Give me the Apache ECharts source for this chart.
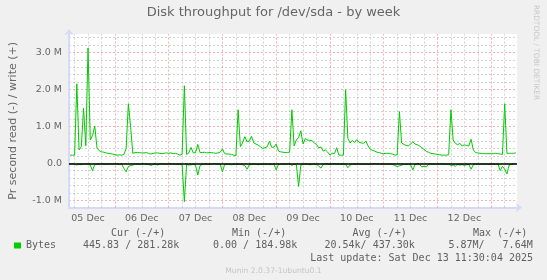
<!DOCTYPE html>
<html><head><meta charset="utf-8">
<script src="https://cdn.jsdelivr.net/npm/echarts@6/dist/echarts.min.js"></script>
<style>html,body{margin:0;padding:0;background:#f0f0f0}#c{width:547px;height:280px}</style>
</head><body><div id="c"></div>
<script>
// hourly samples, hours counted from 05 Dec 00:00
const startHour = 4;
// write (+) throughput, M bytes per second
const writeM = [
  0.22,0.22,0.22,2.15,0.36,0.45,1.49,0.47,3.12,0.63,
  0.75,1.01,0.41,0.34,0.31,0.30,0.28,0.27,0.26,0.25,
  0.23,0.22,0.23,0.22,0.24,0.39,1.61,0.98,0.27,0.29,
  0.29,0.29,0.28,0.28,0.29,0.27,0.25,0.27,0.28,0.28,
  0.27,0.26,0.27,0.28,0.27,0.28,0.26,0.27,0.25,0.22,
  0.25,2.10,0.24,0.28,0.43,0.28,0.29,0.51,0.29,0.29,
  0.30,0.28,0.29,0.29,0.28,0.27,0.28,0.30,0.39,0.26,
  0.25,0.25,0.24,0.22,0.20,1.45,0.45,0.55,0.72,0.58,
  0.60,0.73,0.55,0.52,0.49,0.45,0.40,0.42,0.45,0.60,
  0.43,0.44,0.52,0.33,0.31,0.30,0.29,0.29,0.30,1.45,
  0.47,0.63,0.70,0.88,0.52,0.67,0.63,0.62,0.61,0.55,
  0.51,0.42,0.44,0.33,0.36,0.30,0.22,0.27,0.26,0.42,
  0.22,0.22,0.22,1.99,0.67,0.55,0.62,0.56,0.64,0.57,
  0.55,0.54,0.60,0.47,0.38,0.35,0.33,0.30,0.29,0.27,
  0.26,0.27,0.27,0.26,0.25,0.22,0.23,1.40,0.55,0.51,
  0.48,0.47,0.52,0.58,0.52,0.50,0.47,0.42,0.38,0.32,
  0.30,0.27,0.26,0.25,0.24,0.23,0.22,0.22,0.22,0.23,
  1.45,0.63,0.54,0.50,0.54,0.47,0.50,0.48,0.47,0.65,
  0.36,0.29,0.28,0.27,0.26,0.26,0.26,0.26,0.26,0.26,
  0.27,0.26,0.25,0.24,1.61,0.27,0.27,0.27,0.27,0.28
];
// read (-) throughput magnitudes, drawn below zero
const readM = [
  0.01,0.01,0.02,0.05,0.02,0.04,0.02,0.01,0.02,0.05,
  0.20,0.03,0.02,0.02,0.01,0.02,0.03,0.01,0.02,0.02,
  0.01,0.02,0.03,0.02,0.14,0.23,0.09,0.06,0.05,0.02,
  0.02,0.03,0.02,0.01,0.02,0.03,0.06,0.03,0.02,0.05,
  0.02,0.01,0.02,0.03,0.02,0.01,0.02,0.02,0.03,0.02,
  0.04,1.04,0.03,0.05,0.04,0.03,0.05,0.32,0.06,0.03,
  0.02,0.02,0.03,0.02,0.01,0.02,0.03,0.02,0.23,0.03,
  0.02,0.03,0.04,0.02,0.03,0.02,0.03,0.04,0.06,0.16,
  0.04,0.03,0.02,0.03,0.04,0.02,0.03,0.03,0.02,0.04,
  0.03,0.02,0.18,0.03,0.02,0.02,0.03,0.01,0.02,0.06,
  0.02,0.04,0.63,0.05,0.03,0.02,0.03,0.04,0.03,0.02,
  0.03,0.08,0.13,0.03,0.02,0.02,0.03,0.02,0.01,0.02,
  0.02,0.03,0.02,0.03,0.12,0.05,0.02,0.03,0.02,0.02,
  0.03,0.02,0.02,0.03,0.02,0.02,0.01,0.02,0.02,0.02,
  0.03,0.02,0.02,0.02,0.03,0.06,0.09,0.07,0.05,0.03,
  0.03,0.03,0.04,0.18,0.03,0.02,0.03,0.10,0.08,0.10,
  0.03,0.02,0.02,0.02,0.03,0.02,0.02,0.02,0.03,0.02,
  0.06,0.05,0.08,0.03,0.05,0.03,0.06,0.04,0.03,0.16,
  0.04,0.02,0.02,0.03,0.02,0.02,0.02,0.03,0.02,0.02,
  0.03,0.02,0.20,0.08,0.16,0.29,0.05,0.03,0.02,0.00
];
const dayLabels = ['05 Dec','06 Dec','07 Dec','08 Dec','09 Dec','10 Dec','11 Dec','12 Dec'];
const legendHeaders = ['Cur (-/+)','Min (-/+)','Avg (-/+)','Max (-/+)'];
const legendValues = ['445.83 / 281.28k','0.00 / 184.98k','20.54k/ 437.30k','5.87M/   7.64M'];
const lastUpdate = 'Last update: Sat Dec 13 11:30:04 2025';
const footer = 'Munin 2.0.37-1ubuntu0.1';
const sideText = 'RRDTOOL / TOBI OETIKER';

const GREEN = '#00cc00';
const MINOR = 'rgba(150,150,150,0.42)';
const MAJOR = 'rgba(232,100,100,0.5)';
const FONT = '#666666';
const AXIS = '#d4daf8';

const writeData = writeM.map((v, i) => [startHour + i, v]);
const readData = readM.map((v, i) => [startHour + i, -v]);
const noonHours = dayLabels.map((_, i) => 12 + 24 * i);
const gridHours = [];
for (let h = 6; h <= 198; h += 6) gridHours.push(h);

const chart = echarts.init(document.getElementById('c'), null, {renderer: 'canvas'});
const headerX = [111, 232, 352.5, 473];
const valueX = [83, 213, 324.5, 448.4];
const graphics = [];
legendHeaders.forEach((t, i) => graphics.push({type: 'text', left: headerX[i], top: 228.5, silent: true,
  style: {text: t, fill: '#606060', font: '10px "DejaVu Sans Mono"'}}));
legendValues.forEach((t, i) => graphics.push({type: 'text', left: valueX[i], top: 240.8, silent: true,
  style: {text: t, fill: '#606060', font: '10px "DejaVu Sans Mono"'}}));
graphics.push({type: 'text', right: 14, top: 253.3, silent: true,
  style: {text: lastUpdate, fill: '#606060', font: '10px "DejaVu Sans Mono"'}});
graphics.push({type: 'text', left: 'center', top: 267.5, silent: true,
  style: {text: footer, fill: '#c4c4c4', font: '7.6px "DejaVu Sans"'}});
graphics.push({type: 'text', x: 536, y: 52.5, rotation: -Math.PI / 2, silent: true,
  style: {text: sideText, fill: '#c8c8c8', font: '7.4px "DejaVu Sans"', align: 'center', verticalAlign: 'middle'}});

chart.setOption({
  animation: false,
  backgroundColor: '#f0f0f0',
  title: {text: 'Disk throughput for /dev/sda - by week', left: 'center', top: 6, padding: 0,
    textStyle: {fontSize: 13, fontWeight: 'normal', color: FONT, fontFamily: 'DejaVu Sans'}},
  legend: {data: ['Bytes'], left: 14, top: 240.5, padding: 0, icon: 'rect', itemWidth: 7, itemHeight: 6,
    selectedMode: false, textStyle: {fontFamily: 'DejaVu Sans Mono', fontSize: 10, color: '#606060'}},
  grid: {left: 66, right: 30, top: 34, bottom: 72.4, show: true, backgroundColor: '#ffffff', borderWidth: 0},
  xAxis: {
    type: 'value', min: 3.5, max: 203.5,
    axisLine: {show: true, onZero: false, lineStyle: {color: AXIS, width: 2}, symbol: ['none', 'arrow'], symbolSize: [7, 6], symbolOffset: [0, 5]},
    axisTick: {show: false},
    splitLine: {show: false},
    axisLabel: {customValues: noonHours, formatter: v => dayLabels[Math.round((v - 12) / 24)] || '',
      margin: 6, color: FONT, fontSize: 9.5, fontFamily: 'DejaVu Sans'}
  },
  yAxis: {
    type: 'value', min: -1.2, max: 3.5, interval: 0.2,
    name: 'Pr second read (-) / write (+)', nameLocation: 'middle', nameGap: 50,
    nameTextStyle: {fontSize: 11, color: FONT, fontFamily: 'DejaVu Sans'},
    axisLine: {show: true, onZero: false, lineStyle: {color: AXIS, width: 2}, symbol: ['none', 'arrow'], symbolSize: [7, 6], symbolOffset: [0, 5]},
    axisTick: {show: false},
    axisLabel: {margin: 7, color: FONT, fontSize: 9.5, fontFamily: 'DejaVu Sans',
      formatter: v => { const r = Math.round(v); if (Math.abs(v - r) > 1e-6) return ''; return r === 0 ? '0.0' : r.toFixed(1) + ' M'; }},
    splitLine: {show: true, showMinLine: false, showMaxLine: false,
      lineStyle: {color: [MAJOR, MINOR, MINOR, MINOR, MINOR], type: [2, 2], width: 1}}
  },
  series: [
    {type: 'line', name: 'grid', data: [], silent: true, z: 1,
      markLine: {z: 1, silent: true, symbol: 'none', animation: false, label: {show: false},
        data: gridHours.map(h => ({xAxis: h, lineStyle: {color: h % 24 === 0 ? MAJOR : MINOR, type: [2, 2], width: 1}}))}},
    {type: 'line', name: 'Bytes', data: writeData, showSymbol: false, z: 3,
      lineStyle: {color: GREEN, width: 1}, itemStyle: {color: GREEN}},
    {type: 'line', name: 'read', data: readData, showSymbol: false, z: 3,
      lineStyle: {color: GREEN, width: 1}, itemStyle: {color: GREEN},
      markLine: {z: 6, silent: true, symbol: 'none', animation: false, label: {show: false},
        data: [{yAxis: 0, lineStyle: {color: '#000000', type: 'solid', width: 1.5}}]}}
  ],
  graphic: graphics
});
</script></body></html>
